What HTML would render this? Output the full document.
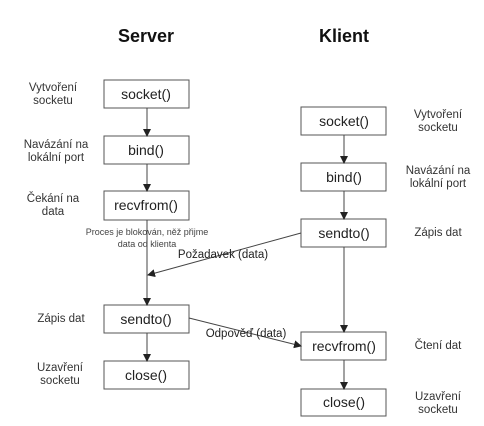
<!DOCTYPE html>
<html><head><meta charset="utf-8"><style>
html,body{margin:0;padding:0;background:#fff;}
svg{display:block;}
text{font-family:"Liberation Sans",sans-serif;fill:#222;}
.b{font-size:14px;text-anchor:middle;}
.l{font-size:11.5px;text-anchor:middle;fill:#333;}
</style></head><body>
<svg width="484" height="426" viewBox="0 0 484 426">
<defs><marker id="a" markerWidth="8" markerHeight="8" refX="7" refY="4" orient="auto" markerUnits="userSpaceOnUse"><path d="M0,0 L8,4 L0,8 Z" fill="#222"/></marker></defs>
<text x="146" y="42" style="font-size:18px;font-weight:bold;text-anchor:middle;fill:#111">Server</text>
<text x="344" y="42" style="font-size:18px;font-weight:bold;text-anchor:middle;fill:#111">Klient</text>
<g fill="#fff" stroke="#555" stroke-width="1">
<rect x="104" y="80" width="85" height="28"/>
<rect x="104" y="136" width="85" height="28"/>
<rect x="104" y="191" width="85" height="29"/>
<rect x="104" y="305" width="85" height="28"/>
<rect x="104" y="361" width="85" height="28"/>
<rect x="301" y="107" width="85" height="28"/>
<rect x="301" y="163" width="85" height="28"/>
<rect x="301" y="219" width="85" height="28"/>
<rect x="301" y="332" width="85" height="28"/>
<rect x="301" y="389" width="85" height="27"/>
</g>
<g stroke="#444" stroke-width="1" marker-end="url(#a)">
<line x1="147" y1="108" x2="147" y2="136"/>
<line x1="147" y1="164" x2="147" y2="191"/>
<line x1="147" y1="220" x2="147" y2="305"/>
<line x1="147" y1="333" x2="147" y2="361"/>
<line x1="344" y1="135" x2="344" y2="163"/>
<line x1="344" y1="191" x2="344" y2="219"/>
<line x1="344" y1="247" x2="344" y2="332"/>
<line x1="344" y1="360" x2="344" y2="389"/>
<line x1="301" y1="233" x2="148" y2="275"/>
<line x1="189" y1="318" x2="301" y2="346"/>
</g>
<text class="b" x="146" y="99">socket()</text>
<text class="b" x="146" y="155">bind()</text>
<text class="b" x="146" y="210">recvfrom()</text>
<text class="b" x="146" y="324">sendto()</text>
<text class="b" x="146" y="380">close()</text>
<text class="b" x="344" y="126">socket()</text>
<text class="b" x="344" y="182">bind()</text>
<text class="b" x="344" y="238">sendto()</text>
<text class="b" x="344" y="351">recvfrom()</text>
<text class="b" x="344" y="407">close()</text>
<text class="l" x="53" y="91">Vytvoření</text><text class="l" x="53" y="104">socketu</text>
<text class="l" x="56" y="148">Navázání na</text><text class="l" x="56" y="161">lokální port</text>
<text class="l" x="53" y="202">Čekání na</text><text class="l" x="53" y="215">data</text>
<text class="l" x="61" y="322">Zápis dat</text>
<text class="l" x="60" y="371">Uzavření</text><text class="l" x="60" y="384">socketu</text>
<text class="l" x="438" y="118">Vytvoření</text><text class="l" x="438" y="131">socketu</text>
<text class="l" x="438" y="174">Navázání na</text><text class="l" x="438" y="187">lokální port</text>
<text class="l" x="438" y="236">Zápis dat</text>
<text class="l" x="438" y="349">Čtení dat</text>
<text class="l" x="438" y="400">Uzavření</text><text class="l" x="438" y="413">socketu</text>
<text x="147" y="235" style="font-size:9px;text-anchor:middle;fill:#444">Proces je blokován, něž přijme</text>
<text x="147" y="247" style="font-size:9px;text-anchor:middle;fill:#444">data od klienta</text>
<text class="l" x="223" y="258" style="fill:#222">Požadavek (data)</text>
<text class="l" x="246" y="337" style="fill:#222">Odpověď (data)</text>
</svg>
</body></html>
